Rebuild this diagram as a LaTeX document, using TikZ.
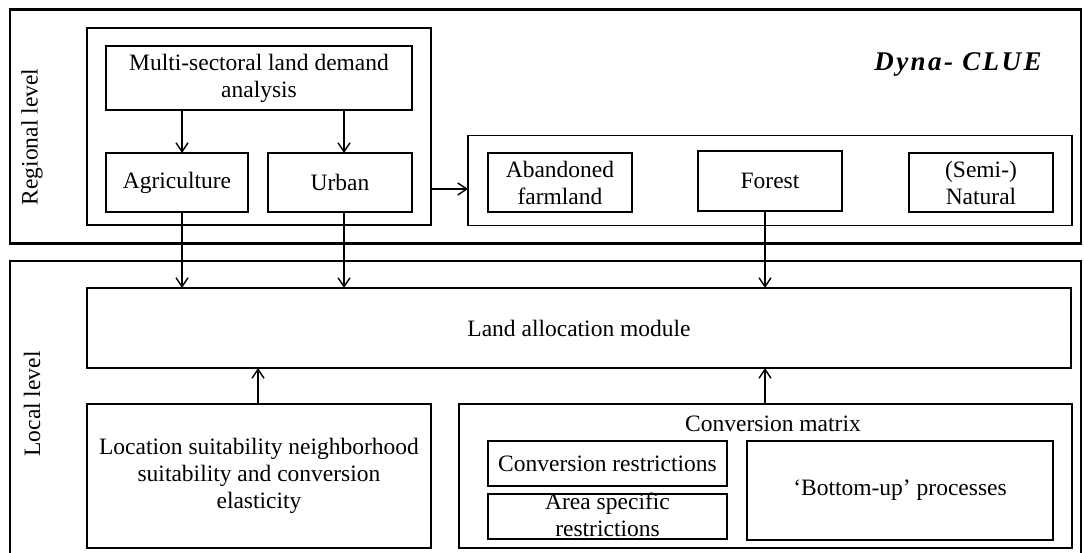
\documentclass[tikz,border=0pt]{standalone}
\usepackage{fontspec}
\setmainfont{Liberation Serif}
\usetikzlibrary{arrows.meta}
\begin{document}
\begin{tikzpicture}[x=1pt,y=-1pt,
  txt/.style={font=\fontsize{23.5}{27}\selectfont, align=center, inner sep=0pt},
  box/.style={txt, draw, line width=1.4pt, anchor=north west, outer sep=0pt},
  level/.style={draw, line width=2.6pt, anchor=north west, inner sep=0pt, outer sep=0pt},
  flow/.style={line width=1.4pt, -{Straight Barb[length=9pt,width=12pt,line width=1.4pt]}}]
\useasboundingbox (0,0) rectangle (1084,553);
\clip (0,0) rectangle (1084,553);

% level frames
\node[level, minimum width=1071pt, minimum height=234pt] (regional) at (10,9.5) {};
\node[level, minimum width=1071pt, minimum height=330pt] (local) at (10,261) {};
\node[txt, rotate=90] (reglabel) at (32,137) {Regional level};
\node[txt, rotate=90] (loclabel) at (32,404) {Local level};

% regional demand
\node[box, minimum width=344pt, minimum height=197pt] (leftgrp) at (87,28) {};
\node[box, minimum width=306pt, minimum height=64pt] (multi) at (106,46) {Multi-sectoral land demand\\analysis};
\node[box, minimum width=142pt, minimum height=59pt] (agri) at (106,153) {Agriculture};
\node[box, minimum width=144pt, minimum height=59pt] (urban) at (268,153) {Urban};

\node[box, minimum width=604pt, minimum height=90pt] (rightgrp) at (468,135.5) {};
\node[box, minimum width=144pt, minimum height=59pt] (aband) at (488,153) {Abandoned\\farmland};
\node[box, minimum width=144pt, minimum height=60pt] (forest) at (698,151) {Forest};
\node[box, minimum width=144pt, minimum height=59pt] (semi) at (909,153) {(Semi-)\\Natural};

\node[inner sep=0pt, font=\fontsize{27}{30}\selectfont\bfseries\itshape\addfontfeature{LetterSpace=9}] (title) at (958,64) {Dyna- CLUE};

% local allocation
\node[box, minimum width=984pt, minimum height=80pt] (landalloc) at (87,288) {Land allocation module};
\node[box, minimum width=344pt, minimum height=144pt] (loc) at (87,404) {Location suitability neighborhood\\suitability and conversion\\elasticity};
\node[box, minimum width=613pt, minimum height=144pt] (convm) at (459,404) {};
\node[txt] (convlabel) at (773,424) {Conversion matrix};
\node[box, minimum width=239pt, minimum height=45pt] (conrest) at (488,441) {Conversion restrictions};
\node[box, minimum width=239pt, minimum height=45pt] (area) at (488,494) {};
\node[txt] (arealabel) at ([yshift=2pt]area.center) {Area specific\\restrictions};
\node[box, minimum width=306pt, minimum height=99pt] (bottomup) at (747,441) {`Bottom-up' processes};

% connectors
\draw[flow] (multi.south -| 182,0) -- (agri.north -| 182,0);
\draw[flow] (multi.south -| 344,0) -- (urban.north -| 344,0);
\draw[flow] (leftgrp.east |- 0,189) -- (rightgrp.west |- 0,189);
\draw[flow] (agri.south -| 182,0) -- (landalloc.north -| 182,0);
\draw[flow] (urban.south -| 344,0) -- (landalloc.north -| 344,0);
\draw[flow] (forest.south -| 765,0) -- (landalloc.north -| 765,0);
\draw[flow] (loc.north -| 258,0) -- (landalloc.south -| 258,0);
\draw[flow] (convm.north -| 765,0) -- (landalloc.south -| 765,0);
\end{tikzpicture}
\end{document}
